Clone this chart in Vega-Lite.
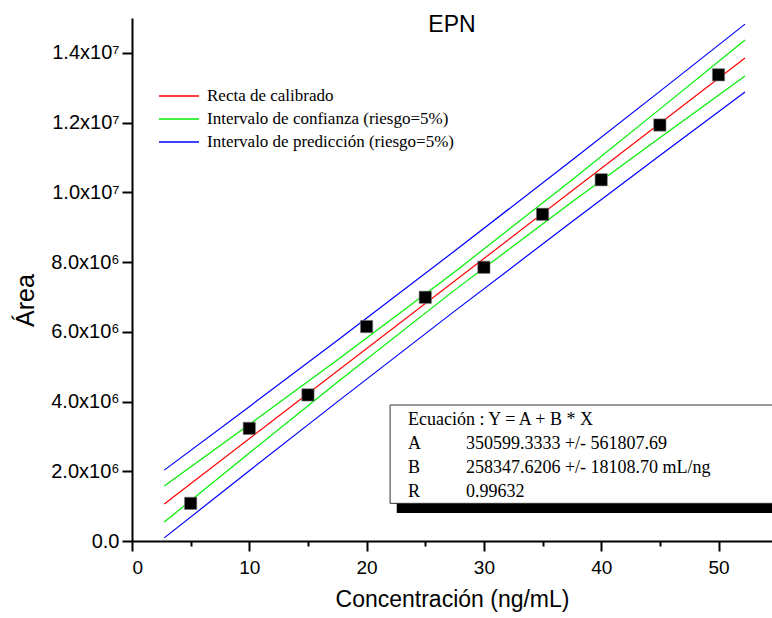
{
  "$schema": "https://vega.github.io/schema/vega-lite/v6.json",
  "width": 640,
  "height": 523,
  "autosize": {"type": "none"},
  "padding": {"left": 132, "top": 18, "right": 0, "bottom": 77},
  "background": "white",
  "title": {"text": "EPN", "font": "Liberation Sans", "fontSize": 23, "fontWeight": "normal", "color": "black", "anchor": "middle", "frame": "group", "baseline": "alphabetic", "offset": -37},
  "config": {
    "view": {"stroke": null},
    "axis": {"grid": false, "domainColor": "black", "domainWidth": 2, "tickColor": "black", "tickWidth": 2, "labelFont": "Liberation Sans", "labelColor": "black", "titleFont": "Liberation Sans", "titleColor": "black", "titleFontWeight": "normal"}
  },
  "datasets": {
    "puntos": [
      {"conc": 5, "area": 1080000},
      {"conc": 10, "area": 3230000},
      {"conc": 15, "area": 4190000},
      {"conc": 20, "area": 6150000},
      {"conc": 25, "area": 6990000},
      {"conc": 30, "area": 7850000},
      {"conc": 35, "area": 9370000},
      {"conc": 40, "area": 10360000},
      {"conc": 45, "area": 11930000},
      {"conc": 50, "area": 13370000}
    ],
    "lineas": [
      {"conc": 2.75, "area": 1061055, "linea": "fit", "grupo": "Recta de calibrado"},
      {"conc": 52.26, "area": 13851846, "linea": "fit", "grupo": "Recta de calibrado"},
      {"conc": 2.75, "area": 1579233, "linea": "ic_sup", "grupo": "Intervalo de confianza (riesgo=5%)"},
      {"conc": 10, "area": 3344025, "linea": "ic_sup", "grupo": "Intervalo de confianza (riesgo=5%)"},
      {"conc": 17.5, "area": 5188586, "linea": "ic_sup", "grupo": "Intervalo de confianza (riesgo=5%)"},
      {"conc": 27.5, "area": 7715226, "linea": "ic_sup", "grupo": "Intervalo de confianza (riesgo=5%)"},
      {"conc": 37.5, "area": 10355539, "linea": "ic_sup", "grupo": "Intervalo de confianza (riesgo=5%)"},
      {"conc": 45, "area": 12386192, "linea": "ic_sup", "grupo": "Intervalo de confianza (riesgo=5%)"},
      {"conc": 52.26, "area": 14370180, "linea": "ic_sup", "grupo": "Intervalo de confianza (riesgo=5%)"},
      {"conc": 2.75, "area": 542877, "linea": "ic_inf", "grupo": "Intervalo de confianza (riesgo=5%)"},
      {"conc": 10, "area": 2524125, "linea": "ic_inf", "grupo": "Intervalo de confianza (riesgo=5%)"},
      {"conc": 17.5, "area": 4554778, "linea": "ic_inf", "grupo": "Intervalo de confianza (riesgo=5%)"},
      {"conc": 27.5, "area": 7195092, "linea": "ic_inf", "grupo": "Intervalo de confianza (riesgo=5%)"},
      {"conc": 37.5, "area": 9721731, "linea": "ic_inf", "grupo": "Intervalo de confianza (riesgo=5%)"},
      {"conc": 45, "area": 11566292, "linea": "ic_inf", "grupo": "Intervalo de confianza (riesgo=5%)"},
      {"conc": 52.26, "area": 13333512, "linea": "ic_inf", "grupo": "Intervalo de confianza (riesgo=5%)"},
      {"conc": 2.75, "area": 2033090, "linea": "ip_sup", "grupo": "Intervalo de predicción (riesgo=5%)"},
      {"conc": 10, "area": 3852992, "linea": "ip_sup", "grupo": "Intervalo de predicción (riesgo=5%)"},
      {"conc": 17.5, "area": 5753032, "linea": "ip_sup", "grupo": "Intervalo de predicción (riesgo=5%)"},
      {"conc": 27.5, "area": 8317700, "linea": "ip_sup", "grupo": "Intervalo de predicción (riesgo=5%)"},
      {"conc": 37.5, "area": 10919985, "linea": "ip_sup", "grupo": "Intervalo de predicción (riesgo=5%)"},
      {"conc": 45, "area": 12895159, "linea": "ip_sup", "grupo": "Intervalo de predicción (riesgo=5%)"},
      {"conc": 52.26, "area": 14823964, "linea": "ip_sup", "grupo": "Intervalo de predicción (riesgo=5%)"},
      {"conc": 2.75, "area": 89020, "linea": "ip_inf", "grupo": "Intervalo de predicción (riesgo=5%)"},
      {"conc": 10, "area": 2015158, "linea": "ip_inf", "grupo": "Intervalo de predicción (riesgo=5%)"},
      {"conc": 17.5, "area": 3990332, "linea": "ip_inf", "grupo": "Intervalo de predicción (riesgo=5%)"},
      {"conc": 27.5, "area": 6592618, "linea": "ip_inf", "grupo": "Intervalo de predicción (riesgo=5%)"},
      {"conc": 37.5, "area": 9157285, "linea": "ip_inf", "grupo": "Intervalo de predicción (riesgo=5%)"},
      {"conc": 45, "area": 11057325, "linea": "ip_inf", "grupo": "Intervalo de predicción (riesgo=5%)"},
      {"conc": 52.26, "area": 12879728, "linea": "ip_inf", "grupo": "Intervalo de predicción (riesgo=5%)"}
    ],
    "estadisticas": [
      {"etiqueta": ["Ecuación : Y = A + B * X", "A", "B", "R"], "valor": ["", "350599.3333 +/- 561807.69", "258347.6206 +/- 18108.70 mL/ng", "0.99632"]}
    ]
  },
  "layer": [
    {
      "data": {"name": "lineas"},
      "mark": {"type": "line", "strokeWidth": 1.2},
      "encoding": {
        "x": {"field": "conc", "type": "quantitative", "scale": {"domain": [0, 54.56], "nice": false, "zero": false},
          "axis": {"title": "Concentración (ng/mL)", "values": [0, 5, 10, 15, 20, 25, 30, 35, 40, 45, 50],
            "labelExpr": "datum.value % 10 === 0 ? datum.label : ''",
            "tickSize": {"condition": {"test": "datum.value % 10 === 0", "value": 10}, "value": 5},
            "labelFontSize": 19, "labelPadding": 7, "titleFontSize": 23, "titleX": 320, "titleY": 65, "titleBaseline": "alphabetic", "titleAlign": "center", "titleAnchor": null}},
        "y": {"field": "area", "type": "quantitative", "scale": {"domain": [0, 15000000], "nice": false},
          "axis": {"title": "Área", "values": [0, 1000000, 2000000, 3000000, 4000000, 5000000, 6000000, 7000000, 8000000, 9000000, 10000000, 11000000, 12000000, 13000000, 14000000, 15000000],
            "labelExpr": "datum.value === 0 ? '0.0' : (datum.value % 2000000 !== 0 ? '' : (datum.value >= 10000000 ? format(datum.value / 10000000, '.1f') + 'x10⁷' : format(datum.value / 1000000, '.1f') + 'x10⁶'))",
            "tickSize": {"condition": {"test": "datum.value % 2000000 === 0", "value": 10}, "value": 5},
            "labelFontSize": 20, "labelPadding": 3, "titleFontSize": 25, "titleX": -99, "titleY": 282, "titleBaseline": "alphabetic", "titleAlign": "center", "titleAnchor": null}},
        "color": {"field": "grupo", "type": "nominal",
          "scale": {"domain": ["Recta de calibrado", "Intervalo de confianza (riesgo=5%)", "Intervalo de predicción (riesgo=5%)"], "range": ["#ff0000", "#00ee00", "#0000ff"]},
          "legend": {"title": null, "orient": "none", "legendX": 38, "legendY": 69, "padding": 0,
            "symbolType": "M-2.5,0H2.5", "symbolSize": 256, "symbolStrokeWidth": 1.3, "labelOffset": 19,
            "labelFont": "Liberation Serif", "labelFontSize": 17, "labelColor": "black", "rowPadding": 6, "labelLimit": 400}},
        "detail": {"field": "linea", "type": "nominal"}
      }
    },
    {
      "data": {"name": "puntos"},
      "mark": {"type": "point", "shape": "square", "filled": true, "size": 150, "color": "black", "stroke": "#777", "strokeWidth": 0.6, "opacity": 1},
      "encoding": {
        "x": {"field": "conc", "type": "quantitative"},
        "y": {"field": "area", "type": "quantitative"}
      }
    },
    {
      "data": {"name": "estadisticas"},
      "mark": {"type": "rect", "color": "black"},
      "encoding": {
        "x": {"datum": 22.57}, "x2": {"datum": 62},
        "y": {"datum": 2000000}, "y2": {"datum": 803000}
      }
    },
    {
      "data": {"name": "estadisticas"},
      "mark": {"type": "rect", "fill": "white", "stroke": "#333", "strokeWidth": 1},
      "encoding": {
        "x": {"datum": 22.0}, "x2": {"datum": 62},
        "y": {"datum": 3900000}, "y2": {"datum": 1080000}
      }
    },
    {
      "data": {"name": "estadisticas"},
      "mark": {"type": "text", "font": "Liberation Serif", "fontSize": 18, "color": "black", "align": "left", "baseline": "alphabetic", "lineHeight": 24},
      "encoding": {
        "x": {"datum": 23.53}, "y": {"datum": 3328000},
        "text": {"field": "etiqueta"}
      }
    },
    {
      "data": {"name": "estadisticas"},
      "mark": {"type": "text", "font": "Liberation Serif", "fontSize": 18, "color": "black", "align": "left", "baseline": "alphabetic", "lineHeight": 24},
      "encoding": {
        "x": {"datum": 28.47}, "y": {"datum": 3328000},
        "text": {"field": "valor"}
      }
    }
  ]
}
